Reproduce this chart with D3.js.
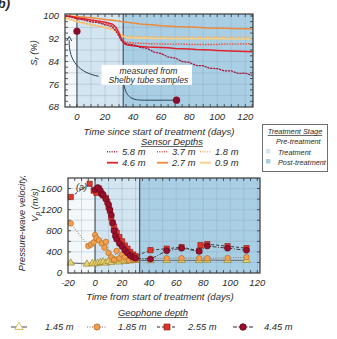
<!DOCTYPE html>
<html>
<head>
<meta charset="utf-8">
<script src="https://cdn.jsdelivr.net/npm/d3@7"></script>
<style>
    body { margin: 0; background: #fff; }
    svg text { font-family: "Liberation Sans", Arial, sans-serif; font-style: italic; fill: #2a2a2a; }
</style>
</head>
<body>
<svg id="chart" width="337" height="339"></svg>
<script>
// ---------- data ----------
const stageEdges = [0, 33];                       // treatment start / end (days)

// degree of saturation, S_r (%)
const srDays = [-8, -4, 0, 5, 10, 15, 20, 25, 28, 30, 32, 34, 36, 40, 45, 50, 55, 60, 65, 70, 75, 80, 85, 90, 95, 100, 105, 110, 115, 120, 125];
const sr58 = [100, 99.6, 99.0, 98.6, 97.9, 97.7, 96.9, 96.3, 94.6, 92.9, 91.1, 90.6, 90.1, 89.9, 89.0, 88.6, 87.3, 86.8, 85.6, 85.2, 84.0, 83.7, 82.6, 82.5, 81.6, 81.5, 80.7, 80.7, 79.8, 79.9, 79.1];
const sr46 = [100, 99.8, 99.4, 99.0, 98.6, 98.2, 97.8, 97.2, 96.0, 94.0, 91.5, 90.2, 89.8, 89.5, 89.3, 89.1, 89.0, 88.9, 88.8, 88.6, 88.5, 88.4, 88.2, 88.1, 88.0, 87.9, 87.8, 87.7, 87.6, 87.5, 87.4];
const sr37 = [100, 99.7, 99.2, 98.7, 98.2, 97.8, 97.3, 96.6, 95.2, 93.5, 91.8, 91.0, 90.7, 90.5, 90.4, 90.3, 90.2, 90.2, 90.1, 90.1, 90.1, 90.0, 90.0, 90.0, 90.0, 90.0, 90.1, 90.1, 90.1, 90.2, 90.3];
const sr27 = [100, 99.9, 99.8, 99.6, 99.4, 99.1, 98.8, 98.5, 98.3, 98.2, 98.0, 97.9, 97.8, 97.5, 97.2, 97.0, 96.8, 96.6, 96.5, 96.3, 96.2, 96.1, 96.0, 95.9, 95.8, 95.7, 95.7, 95.6, 95.5, 95.5, 95.4];
const sr18 = [99.5, 99.0, 98.3, 97.6, 97.0, 96.5, 96.0, 95.5, 94.8, 94.0, 93.3, 93.0, 92.9, 92.8, 92.8, 92.7, 92.7, 92.7, 92.6, 92.6, 92.6, 92.6, 92.6, 92.5, 92.5, 92.5, 92.5, 92.5, 92.5, 92.6, 92.6];
const sr09 = [99.0, 98.6, 98.0, 97.4, 96.9, 96.4, 95.9, 95.3, 94.5, 93.8, 93.0, 92.6, 92.4, 92.3, 92.2, 92.2, 92.1, 92.1, 92.1, 92.0, 92.0, 92.0, 92.0, 92.0, 92.0, 92.0, 92.0, 91.9, 91.9, 91.9, 91.9];

// Shelby tube samples
const tubeDays = [0, 71];
const tubeSr = [94.6, 70.4];

// pressure-wave velocity, V_p (m/s)
const vp145Days = [-18, -6, -2, 0, 2, 4, 6, 8, 10, 12, 14, 16, 18, 20, 22, 24, 26, 28, 30, 41, 53, 64, 77, 83, 98, 112];
const vp145 = [190, 170, 180, 175, 185, 200, 210, 190, 220, 200, 240, 230, 210, 250, 220, 240, 230, 250, 240, 235, 240, 240, 238, 245, 240, 240];
const vp185Days = [-18, -5, -3, -1, 0, 1, 3, 5, 7, 8, 10, 12, 14, 16, 18, 20, 22, 25, 28, 30, 41, 53, 64, 77, 83, 98, 112];
const vp185 = [940, 510, 540, 580, 720, 660, 620, 560, 480, 590, 380, 300, 250, 420, 280, 350, 300, 240, 260, 250, 270, 280, 280, 280, 280, 285, 300];
const vp255Days = [-18, -4, -1, 1, 3, 5, 6, 8, 9, 10, 11, 12, 13, 14, 15, 16, 18, 20, 22, 24, 26, 28, 30, 41, 53, 64, 77, 78, 83, 98, 112];
const vp255 = [1440, 1690, 1560, 1520, 1600, 1500, 1470, 1420, 1350, 1250, 1180, 1050, 950, 880, 800, 760, 680, 600, 520, 460, 400, 350, 320, 433, 460, 490, 420, 527, 546, 508, 470];
const vp445Days = [0, 2, 4, 5, 6, 8, 10, 11, 12, 13, 14, 15, 16, 18, 20, 22, 24, 26, 28, 30, 41, 53, 64, 77, 83, 98, 112];
const vp445 = [1580, 1620, 1560, 1500, 1480, 1400, 1300, 1200, 1100, 950, 800, 700, 640, 560, 500, 430, 380, 330, 300, 280, 263, 420, 470, 410, 510, 470, 430];

const xTicks = [-20, 0, 20, 40, 60, 80, 100, 120];
const srTicks = [68, 76, 84, 92, 100];
const vpTicks = [0, 400, 800, 1200, 1600];

// ---------- styles ----------
const stageFill = {pre: '#f4f8fb', treat: '#d4e5f2', post: '#a9cfe5'};

const sensorSeries = [
    {label: '0.9 m', values: sr09, color: '#f6d083', dash: null,      width: 1.6},
    {label: '1.8 m', values: sr18, color: '#f4b466', dash: '1.5,1.2', width: 1.5},
    {label: '2.7 m', values: sr27, color: '#ef8a3a', dash: null,      width: 1.5},
    {label: '3.7 m', values: sr37, color: '#e8503a', dash: '1.5,1.2', width: 1.4},
    {label: '4.6 m', values: sr46, color: '#e0242c', dash: null,      width: 1.5},
    {label: '5.8 m', values: sr58, color: '#a8183a', dash: '2.2,0.8', width: 1.3}
];

const geoSeries = [
    {label: '1.45 m', days: vp145Days, values: vp145, symbol: d3.symbolTriangle, size: 24, fill: '#ead36c', stroke: '#8c7a2c', line: '#5e5e5e', dash: null,          key: 16},
    {label: '1.85 m', days: vp185Days, values: vp185, symbol: d3.symbolCircle,   size: 24, fill: '#f2a04e', stroke: '#b0651e', line: '#8a6a48', dash: '1,1.5',       key: 20},
    {label: '2.55 m', days: vp255Days, values: vp255, symbol: d3.symbolSquare,   size: 28, fill: '#e5352b', stroke: '#80170f', line: '#2a2a2a', dash: '3,2',         key: 20},
    {label: '4.45 m', days: vp445Days, values: vp445, symbol: d3.symbolCircle,   size: 28, fill: '#9c0e2c', stroke: '#55081a', line: '#2a2a2a', dash: '4,1.5,1,1.5', key: 20}
];

const svg = d3.select('#chart');

// ---------- panel helper ----------
function panel(x, y, opt) {
    const [x0, x1] = x.range(), [y0, y1] = y.range();   // y0 = bottom
    const g = svg.append('g');
    const [dMin, dMax] = x.domain();

    // stage backgrounds
    const spans = [
        [dMin, stageEdges[0], stageFill.pre],
        [stageEdges[0], stageEdges[1], stageFill.treat],
        [stageEdges[1], dMax, stageFill.post]
    ];
    g.selectAll('rect.stage').data(spans).enter().append('rect')
        .attr('x', d => x(d[0])).attr('width', d => x(d[1]) - x(d[0]))
        .attr('y', y1).attr('height', y0 - y1)
        .attr('fill', d => d[2]);

    // grid
    g.selectAll('line.gx').data(opt.gridX).enter().append('line')
        .attr('x1', d => x(d)).attr('x2', d => x(d)).attr('y1', y1).attr('y2', y0)
        .attr('stroke', '#8fa6b6').attr('stroke-opacity', 0.6).attr('stroke-width', 0.6);
    g.selectAll('line.gy').data(opt.gridY).enter().append('line')
        .attr('y1', d => y(d)).attr('y2', d => y(d)).attr('x1', x0).attr('x2', x1)
        .attr('stroke', '#8fa6b6').attr('stroke-opacity', 0.6).attr('stroke-width', 0.6);

    // stage dividers
    g.selectAll('line.div').data(stageEdges).enter().append('line')
        .attr('x1', d => x(d)).attr('x2', d => x(d)).attr('y1', y1).attr('y2', y0)
        .attr('stroke', '#46535e').attr('stroke-width', 1.2);

    // inner ticks on all four sides
    const tk = 3;
    const ax = g.append('g').attr('stroke', '#333').attr('stroke-width', 0.8);
    opt.minorX.forEach(d => {
        ax.append('line').attr('x1', x(d)).attr('x2', x(d)).attr('y1', y0).attr('y2', y0 - tk);
        ax.append('line').attr('x1', x(d)).attr('x2', x(d)).attr('y1', y1).attr('y2', y1 + tk);
    });
    opt.minorY.forEach(d => {
        ax.append('line').attr('y1', y(d)).attr('y2', y(d)).attr('x1', x0).attr('x2', x0 + tk);
        ax.append('line').attr('y1', y(d)).attr('y2', y(d)).attr('x1', x1).attr('x2', x1 - tk);
    });

    // tick labels
    g.selectAll('text.tx').data(opt.ticksX).enter().append('text')
        .attr('x', d => x(d)).attr('y', y0 + 13).attr('text-anchor', 'middle')
        .attr('font-size', 9.5).text(d => d);
    g.selectAll('text.ty').data(opt.ticksY).enter().append('text')
        .attr('x', x0 - 6).attr('y', d => y(d) + 3.4).attr('text-anchor', 'end')
        .attr('font-size', 9.5).text(d => d);

    const plot = svg.append('g');
    // frame on top
    svg.append('rect').attr('x', x0).attr('y', y1).attr('width', x1 - x0).attr('height', y0 - y1)
        .attr('fill', 'none').attr('stroke', '#3a3a3a').attr('stroke-width', 1.2);
    return plot;
}

function underlined(x, y, str, size) {
    const t = svg.append('text').attr('x', x).attr('y', y).attr('text-anchor', 'middle')
        .attr('font-size', size).text(str);
    const w = t.node().getComputedTextLength();
    svg.append('line').attr('x1', x - w / 2).attr('x2', x + w / 2).attr('y1', y + 1.5).attr('y2', y + 1.5)
        .attr('stroke', '#2a2a2a').attr('stroke-width', 0.7);
}

// ---------- top panel: S_r ----------
const topX = d3.scaleLinear().domain([-8.5, 125.5]).range([65, 253]);
const topY = d3.scaleLinear().domain([68, 100.7]).range([107, 14]);

const topPlot = panel(topX, topY, {
    gridX: d3.range(10, 125, 10).filter(d => !stageEdges.includes(d)),
    gridY: d3.range(72, 100, 4),
    minorX: d3.range(-5, 126, 5),
    minorY: d3.range(70, 101, 2),
    ticksX: xTicks.filter(d => d >= 0),
    ticksY: srTicks
});

const srLine = d3.line().x((d, i) => topX(srDays[i])).y(d => topY(d));
topPlot.selectAll('path.sr').data(sensorSeries).enter().append('path')
    .attr('d', d => srLine(d.values))
    .attr('fill', 'none')
    .attr('stroke', d => d.color)
    .attr('stroke-width', d => d.width)
    .attr('stroke-dasharray', d => d.dash);

// annotation: measured from Shelby tube samples
const note = topPlot.append('g');
const arrowC = '#2e4756';
note.append('path')
    .attr('d', `M${topX(15.5)},${topY(78.8)} C${topX(2)},${topY(80)} ${topX(-6)},${topY(84)} ${topX(-5.5)},${topY(91.5)}`)
    .attr('fill', 'none').attr('stroke', arrowC).attr('stroke-width', 1);
note.append('path')
    .attr('d', `M${topX(-5.5) - 2.5},${topY(91.2)} L${topX(-5.5)},${topY(92.8)} L${topX(-5.5) + 2.5},${topY(91.2)}`)
    .attr('fill', 'none').attr('stroke', arrowC).attr('stroke-width', 1);
note.append('path')
    .attr('d', `M${topX(33.5)},${topY(76)} C${topX(35)},${topY(71)} ${topX(40)},${topY(70.4)} ${topX(48)},${topY(70.4)} L${topX(71)},${topY(70.4)}`)
    .attr('fill', 'none').attr('stroke', arrowC).attr('stroke-width', 1);

note.append('rect')
    .attr('x', topX(17.5)).attr('y', topY(82.8)).attr('width', topX(82) - topX(17.5)).attr('height', topY(75.8) - topY(82.8))
    .attr('fill', '#fff');
note.append('text').attr('x', topX(51)).attr('y', topY(79.6)).attr('text-anchor', 'middle')
    .attr('font-size', 8.6).text('measured from');
note.append('text').attr('x', topX(51)).attr('y', topY(76.3)).attr('text-anchor', 'middle')
    .attr('font-size', 8.6).text('Shelby tube samples');

topPlot.selectAll('circle.tube').data(tubeSr).enter().append('circle')
    .attr('cx', (d, i) => topX(tubeDays[i])).attr('cy', d => topY(d)).attr('r', 3.6)
    .attr('fill', '#8a0b2c');

// axis titles
svg.append('text').attr('x', 159).attr('y', 135).attr('text-anchor', 'middle')
    .attr('font-size', 9.6).text('Time since start of treatment (days)');
svg.append('text').attr('transform', 'translate(37,53) rotate(-90)').attr('text-anchor', 'middle')
    .attr('font-size', 9.4)
    .call(t => {
        t.append('tspan').text('S');
        t.append('tspan').attr('font-size', 6.5).attr('dy', 2).text('r');
        t.append('tspan').attr('dy', -2).text(' (%)');
    });

svg.append('text').attr('x', 10).attr('y', 8).attr('text-anchor', 'end')
    .attr('font-size', 13).attr('font-weight', 'bold').text('(b)');

// ---------- sensor depth legend ----------
underlined(172, 145, 'Sensor Depths', 9.4);
const sensorLegend = [
    [sensorSeries[5], 107, 155], [sensorSeries[3], 157, 155], [sensorSeries[1], 200, 155],
    [sensorSeries[4], 107, 166], [sensorSeries[2], 157, 166], [sensorSeries[0], 200, 166]
];
sensorLegend.forEach(([s, lx, ly]) => {
    svg.append('line').attr('x1', lx).attr('x2', lx + 11).attr('y1', ly - 3.3).attr('y2', ly - 3.3)
        .attr('stroke', s.color).attr('stroke-width', s.dash ? 1.4 : 1.8)
        .attr('stroke-dasharray', s.dash ? '1,1.3' : null);
    svg.append('text').attr('x', lx + 15).attr('y', ly).attr('font-size', 9.4).text(s.label);
});

// ---------- treatment stage legend ----------
svg.append('rect').attr('x', 262.5).attr('y', 124.5).attr('width', 65).attr('height', 47)
    .attr('fill', '#fff').attr('stroke', '#6f6f6f').attr('stroke-width', 1);
underlined(295, 134, 'Treatment Stage', 7.4);
const stageLegend = [['Pre-treatment', stageFill.pre, 144], ['Treatment', stageFill.treat, 155], ['Post-treatment', stageFill.post, 165]];
stageLegend.forEach(([lab, c, ly], i) => {
    if (i > 0) {
        svg.append('rect').attr('x', 266).attr('y', ly - 6).attr('width', 4.5).attr('height', 4.5).attr('fill', c);
    }
    svg.append('text').attr('x', i === 0 ? 276 : 278).attr('y', ly).attr('font-size', 7.3).text(lab);
});

// ---------- bottom panel: V_p ----------
const botX = d3.scaleLinear().domain([-20, 122]).range([68, 260]);
const botY = d3.scaleLinear().domain([0, 1800]).range([273, 178]);

const botPlot = panel(botX, botY, {
    gridX: d3.range(-10, 121, 10).filter(d => !stageEdges.includes(d)),
    gridY: d3.range(200, 1800, 200),
    minorX: d3.range(-15, 121, 5),
    minorY: d3.range(200, 1800, 200),
    ticksX: xTicks,
    ticksY: vpTicks
});

geoSeries.forEach(s => {
    const line = d3.line().x((d, i) => botX(s.days[i])).y(d => botY(d));
    botPlot.append('path').attr('d', line(s.values))
        .attr('fill', 'none').attr('stroke', s.line).attr('stroke-width', 0.9)
        .attr('stroke-dasharray', s.dash);
});
geoSeries.forEach(s => {
    botPlot.append('g').selectAll('path').data(s.values).enter().append('path')
        .attr('transform', (d, i) => `translate(${botX(s.days[i])},${botY(d)})`)
        .attr('d', d3.symbol().type(s.symbol).size(s.size))
        .attr('fill', s.fill).attr('stroke', s.stroke).attr('stroke-width', 0.6);
});

svg.append('text').attr('x', 76).attr('y', 190).attr('font-size', 9).text('(a)');

svg.append('text').attr('x', 160).attr('y', 300).attr('text-anchor', 'middle')
    .attr('font-size', 9.6).text('Time from start of treatment (days)');
svg.append('text').attr('transform', 'translate(25,223) rotate(-90)').attr('text-anchor', 'middle')
    .attr('font-size', 9.2).text('Pressure-wave velocity,');
svg.append('text').attr('transform', 'translate(38,205) rotate(-90)').attr('text-anchor', 'middle')
    .attr('font-size', 9.2)
    .call(t => {
        t.append('tspan').text('V');
        t.append('tspan').attr('font-size', 6.5).attr('dy', 2).text('p');
        t.append('tspan').attr('dy', -2).text(' (m/s)');
    });

// ---------- geophone legend ----------
underlined(153, 316, 'Geophone depth', 9.4);
const geoLegendX = [11, 87, 157, 233];
geoSeries.forEach((s, i) => {
    const lx = geoLegendX[i], ly = 327;
    svg.append('line').attr('x1', lx).attr('x2', lx + s.key).attr('y1', ly).attr('y2', ly)
        .attr('stroke', s.line).attr('stroke-width', 1.1).attr('stroke-dasharray', s.dash);
    svg.append('path').attr('transform', `translate(${lx + s.key / 2},${ly})`)
        .attr('d', d3.symbol().type(s.symbol).size(s.size + 6))
        .attr('fill', i === 0 ? '#fff' : s.fill).attr('stroke', i === 0 ? '#d9a630' : s.stroke).attr('stroke-width', 0.8);
    svg.append('text').attr('x', i === 0 ? 45 : lx + 31).attr('y', ly + 3.3).attr('font-size', 9.4).text(s.label);
});
</script>
</body>
</html>
